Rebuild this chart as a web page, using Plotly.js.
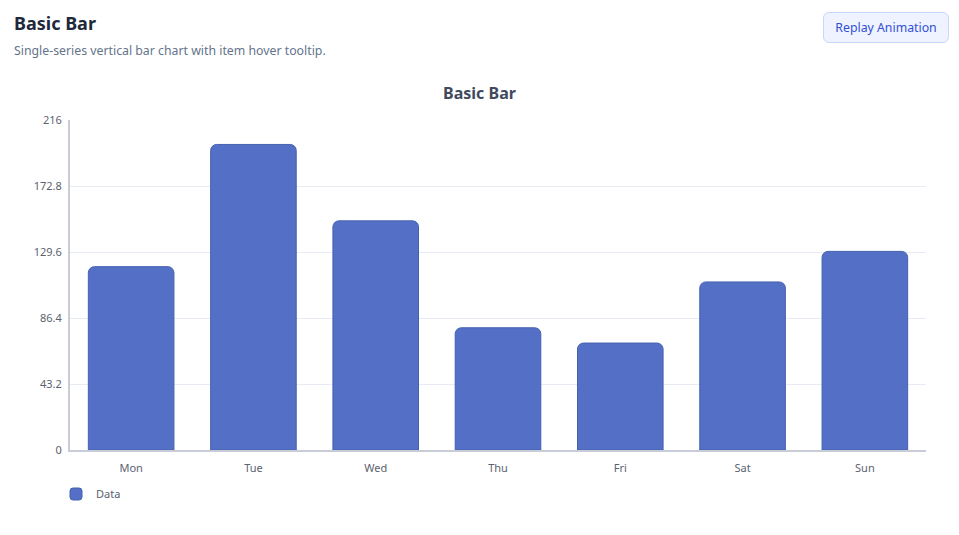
<!DOCTYPE html>
<html>
<head>
<meta charset="utf-8">
<script src="https://cdn.plot.ly/plotly-3.0.1.min.js"></script>
<style>
  html, body { margin: 0; padding: 0; background: #ffffff; width: 959px; height: 535px; overflow: hidden; font-family: "Noto Sans", "Open Sans", sans-serif; }
  #head-title { position: absolute; left: 14px; top: 11px; font-size: 18px; font-weight: 700; color: #1e293b; }
  #head-sub { position: absolute; left: 14px; top: 42px; font-size: 12.3px; color: #64748b; }
  #btn { position: absolute; left: 823px; top: 12px; width: 126px; height: 31px; box-sizing: border-box; border: 1px solid #c7d6fb; background: #eef3ff; border-radius: 6px; color: #3350d6; font-size: 12.3px; line-height: 29px; text-align: center; }
  #chart { position: absolute; left: 0; top: 0; width: 959px; height: 535px; }
</style>
</head>
<body>
<div id="chart"></div>
<div id="head-title">Basic Bar</div>
<div id="head-sub">Single-series vertical bar chart with item hover tooltip.</div>
<div id="btn">Replay Animation</div>
<script>
const categories = ["Mon", "Tue", "Wed", "Thu", "Fri", "Sat", "Sun"];
const values = [120, 200, 150, 80, 70, 110, 130];
const seriesName = "Data";
const yTickVals = [0, 43.2, 86.4, 129.6, 172.8, 216];
const yTickText = ["0", "43.2", "86.4", "129.6", "172.8", "216"];

const trace = {
  type: "bar",
  x: categories,
  y: values,
  name: seriesName,
  marker: { color: "#5470c6", line: { color: "#4660b0", width: 1 }, cornerradius: 6 },
  hovertemplate: "%{x}: %{y}<extra></extra>"
};

const layout = {
  width: 959, height: 535,
  margin: { l: 70, r: 33, t: 120, b: 85 },
  paper_bgcolor: "rgba(0,0,0,0)",
  plot_bgcolor: "#ffffff",
  font: { family: "Noto Sans, Open Sans, sans-serif", size: 11, color: "#5b6270" },
  title: { text: "<b>Basic Bar</b>", x: 0.5, xref: "container", y: 1 - 93/535, yref: "container", yanchor: "middle", xanchor: "center", font: { size: 16, color: "#3f4a5c" } },
  bargap: 0.3,
  xaxis: { showgrid: false, showline: true, linecolor: "#c8ccd6", linewidth: 2, ticks: "", ticklabelstandoff: 7, tickfont: { size: 11, color: "#5b6270" }, zeroline: false, fixedrange: true },
  yaxis: { range: [0, 216], tickvals: yTickVals, ticktext: yTickText, showgrid: true, gridcolor: "#e8eaf4", gridwidth: 1, showline: true, linecolor: "#c8ccd6", linewidth: 2, zeroline: false, ticks: "", ticklabelstandoff: 4, tickfont: { size: 11, color: "#5b6270" }, fixedrange: true },
  showlegend: true,
  legend: { orientation: "h", x: 56/959, xref: "container", xanchor: "left", y: 1 - 494/535, yref: "container", yanchor: "middle", font: { size: 11, color: "#5b6270" }, bgcolor: "rgba(0,0,0,0)" }
};

Plotly.newPlot("chart", [trace], layout, { displayModeBar: false, responsive: false });
</script>
</body>
</html>
